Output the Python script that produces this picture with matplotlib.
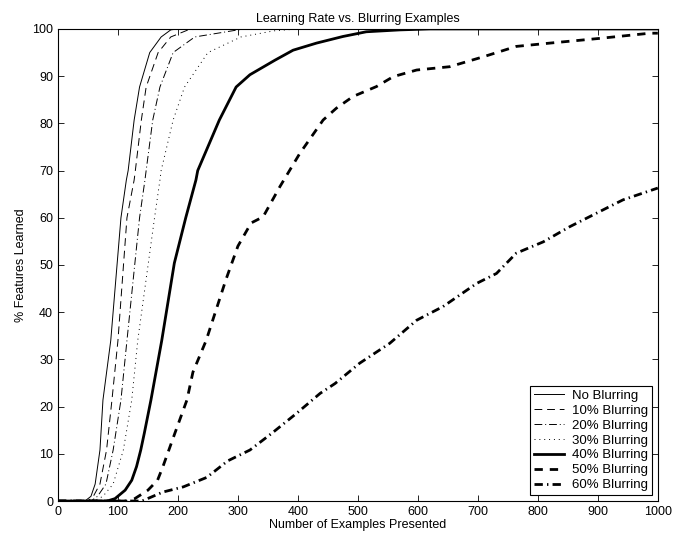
import matplotlib
matplotlib.use("Agg")
import matplotlib.pyplot as plt

plt.rcParams['font.family'] = ['Liberation Sans', 'DejaVu Sans']

# values (x = examples presented, y = % features learned)
x_none = [0, 45, 55, 62, 70, 75, 88, 105, 114, 117, 127, 136, 153, 172, 188, 200, 1000]
y_none = [0, 0, 1, 3.6, 10.8, 21.4, 34, 60, 68, 70, 80.7, 87.7, 95, 98.3, 99.8, 100, 100]

x_10 = [0, 50, 59, 70, 81, 90, 100, 115, 127, 129, 139, 147, 167, 188, 217, 240, 1000]
y_10 = [0, 0, 1, 3.6, 10.8, 21.4, 34, 60, 68, 70, 80.7, 87.7, 95, 98.3, 99.8, 100, 100]

x_20 = [0, 55, 66, 80, 92, 105, 115, 136, 145, 147, 158, 170, 192, 228, 300, 320, 1000]
y_20 = [0, 0, 1, 3.6, 10.8, 21.4, 34, 60, 68, 70, 80.7, 87.7, 95, 98.3, 99.8, 100, 100]

x_30 = [0, 60, 75, 92, 109, 123, 133, 161, 170, 172, 192, 211, 250, 305, 360, 400, 1000]
y_30 = [0, 0, 1, 3.6, 10.8, 21.4, 34, 60, 68, 70, 80.7, 87.7, 95, 98.3, 99.6, 100, 100]

x_40 = [0, 82, 95, 112, 123, 131, 138, 144, 155, 173, 194, 213, 230, 233, 269, 297,
        320, 362, 392, 431, 475, 514, 570, 620, 1000]
y_40 = [0, 0, 0.5, 2.3, 4.4, 7.3, 10.8, 14.4, 21.4, 34, 50.4, 60, 68, 70, 80.7, 87.7,
        90.3, 93.4, 95.5, 97, 98.4, 99.4, 99.8, 100, 100]

x_50 = [0, 115, 128, 150, 166, 175, 195, 215, 225, 247, 280, 300, 322, 342, 370,
        403, 442, 464, 492, 531, 559, 598, 653, 709, 764, 820, 903, 987, 1000]
y_50 = [0, 0, 0.5, 2.3, 4.4, 7.3, 14.4, 21.4, 27.3, 34, 46.9, 54, 58.9, 60.2, 66.6,
        73.6, 80.7, 83.2, 85.7, 87.8, 89.9, 91.3, 92, 94.1, 96.3, 97, 98, 99.1, 99.1]

x_60 = [0, 140, 175, 209, 248, 283, 320, 356, 398, 437, 462, 503, 553, 598,
        642, 698, 731, 764, 809, 853, 892, 920, 942, 1000]
y_60 = [0, 0, 1.9, 3.0, 5.0, 8.5, 10.8, 14.3, 18.6, 22.8, 24.9, 29.2, 33.4, 38.3,
        41.2, 46.1, 48.2, 52.5, 54.9, 58.1, 60.6, 62.4, 63.8, 66.3]

labels = ["No Blurring", "10% Blurring", "20% Blurring", "30% Blurring",
          "40% Blurring", "50% Blurring", "60% Blurring"]

fig = plt.figure(figsize=(6.74, 5.42), dpi=100)
ax = fig.add_axes([0.086, 0.0756, 0.890, 0.871])

thin = 0.7
thick = 2.0
ax.plot(x_none, y_none, color="black", lw=thin, label=labels[0])
ax.plot(x_10, y_10, color="black", lw=thin, dashes=(8, 5), label=labels[1])
ax.plot(x_20, y_20, color="black", lw=thin, dashes=(8, 3, 1, 3), label=labels[2])
ax.plot(x_30, y_30, color="black", lw=thin, dashes=(1, 4), label=labels[3])
ax.plot(x_40, y_40, color="black", lw=thick, label=labels[4])
ax.plot(x_50, y_50, color="black", lw=thick, dashes=(3, 2.5), label=labels[5])
ax.plot(x_60, y_60, color="black", lw=thick, dashes=(3, 1.5, 0.5, 1.5), label=labels[6])

ax.set_xlim(0, 1000)
ax.set_ylim(0, 100)
ax.set_xticks(range(0, 1001, 100))
ax.set_yticks(range(0, 101, 10))
ax.tick_params(direction="in", top=True, right=True, length=4.5, width=0.6,
               labelsize=9)
for s in ax.spines.values():
    s.set_linewidth(0.8)

ax.set_title("Learning Rate vs. Blurring Examples", fontsize=9, pad=5)
ax.set_xlabel("Number of Examples Presented", fontsize=9, labelpad=1)
ax.set_ylabel("% Features Learned", fontsize=9, labelpad=4)

leg = ax.legend(loc="lower right", fontsize=9.5, fancybox=False, edgecolor="black",
                framealpha=1, labelspacing=0.2, handlelength=2.3,
                handletextpad=0.6, borderaxespad=0.45, borderpad=0.3)
leg.get_frame().set_linewidth(0.8)

fig.savefig("out.png", dpi=100)
